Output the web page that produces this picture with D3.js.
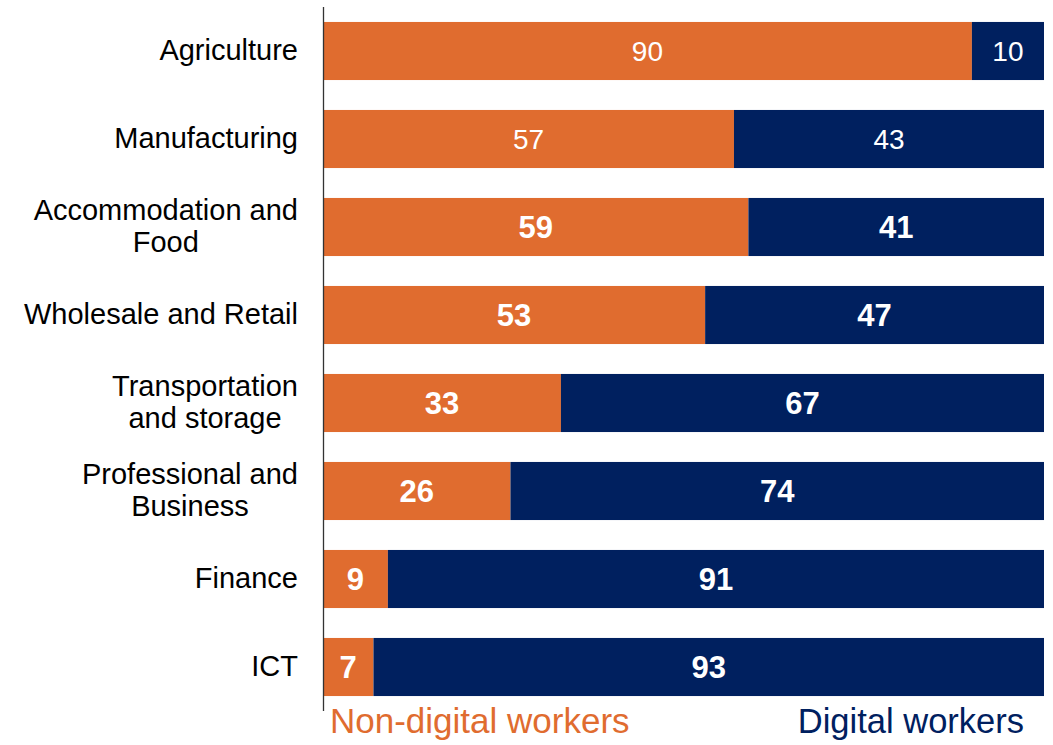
<!DOCTYPE html>
<html>
<head>
<meta charset="utf-8">
<script src="https://cdn.jsdelivr.net/npm/d3@7"></script>
<style>
  html, body { margin: 0; padding: 0; background: #ffffff; }
  svg { display: block; font-family: "Liberation Sans", Arial, sans-serif; }
</style>
</head>
<body>
<svg id="chart" width="1053" height="745"></svg>
<script>
// Share of workers by sector (%)
const sectors = [
  ["Agriculture"],
  ["Manufacturing"],
  ["Accommodation and", "Food"],
  ["Wholesale and Retail"],
  ["Transportation", "and storage"],
  ["Professional and", "Business"],
  ["Finance"],
  ["ICT"]
];
const nonDigital = [90, 57, 59, 53, 33, 26, 9, 7];
const digital    = [10, 43, 41, 47, 67, 74, 91, 93];
// first two rows have plain labels, the rest are emphasised
const boldLabel  = [false, false, true, true, true, true, true, true];
const seriesNames = ["Non-digital workers", "Digital workers"];

const ORANGE = "#E06C2F";
const NAVY = "#00205F";

const svg = d3.select("#chart");

const x = d3.scaleLinear().domain([0, 100]).range([323, 1044]);
const y = d3.scaleBand()
  .domain(d3.range(sectors.length))
  .range([7, 711])
  .paddingInner(0.34)
  .paddingOuter(0.17);

const rows = sectors.map((lines, i) => ({
  i, lines, nd: nonDigital[i], dg: digital[i], bold: boldLabel[i]
}));

// stacked segments
const g = svg.append("g");
g.selectAll("rect.nd").data(rows).join("rect")
  .attr("class", "nd")
  .attr("x", d => x(0))
  .attr("y", d => y(d.i))
  .attr("width", d => x(d.nd) - x(0))
  .attr("height", y.bandwidth())
  .attr("fill", ORANGE);

g.selectAll("rect.dg").data(rows).join("rect")
  .attr("class", "dg")
  .attr("x", d => x(d.nd))
  .attr("y", d => y(d.i))
  .attr("width", d => x(d.nd + d.dg) - x(d.nd))
  .attr("height", y.bandwidth())
  .attr("fill", NAVY);

// value labels centred in each segment
function valueLabels(cls, startFn, valFn) {
  g.selectAll("text." + cls).data(rows).join("text")
    .attr("class", cls)
    .attr("x", d => x(startFn(d) + valFn(d) / 2))
    .attr("y", d => y(d.i) + y.bandwidth() / 2)
    .attr("dy", "0.36em")
    .attr("text-anchor", "middle")
    .attr("fill", "#ffffff")
    .attr("font-size", d => d.bold ? 31 : 28)
    .attr("font-weight", d => d.bold ? "bold" : "normal")
    .text(valFn);
}
valueLabels("vnd", d => 0, d => d.nd);
valueLabels("vdg", d => d.nd, d => d.dg);

// vertical category axis line
svg.append("line")
  .attr("x1", x(0) + 0.5).attr("x2", x(0) + 0.5)
  .attr("y1", y.range()[0]).attr("y2", y.range()[1])
  .attr("stroke", "#333333")
  .attr("stroke-width", 1.3);

// category labels: block right-aligned, lines centred within the block
const labelRight = 298;
const lineGap = 32;
rows.forEach(d => {
  const grp = svg.append("g");
  const texts = d.lines.map((ln, k) => grp.append("text")
    .attr("font-size", 29)
    .attr("fill", "#000000")
    .attr("text-anchor", "middle")
    .attr("y", y(d.i) + y.bandwidth() / 2 + 9 + (k - (d.lines.length - 1) / 2) * lineGap)
    .text(ln));
  const w = d3.max(texts, t => t.node().getComputedTextLength());
  texts.forEach(t => t.attr("x", labelRight - w / 2));
});

// series legend under the bars
svg.append("text")
  .attr("x", x(0) + 7)
  .attr("y", 733)
  .attr("font-size", 35)
  .attr("fill", ORANGE)
  .text(seriesNames[0]);
svg.append("text")
  .attr("x", 1024)
  .attr("y", 733)
  .attr("text-anchor", "end")
  .attr("font-size", 34.5)
  .attr("fill", NAVY)
  .text(seriesNames[1]);
</script>
</body>
</html>
